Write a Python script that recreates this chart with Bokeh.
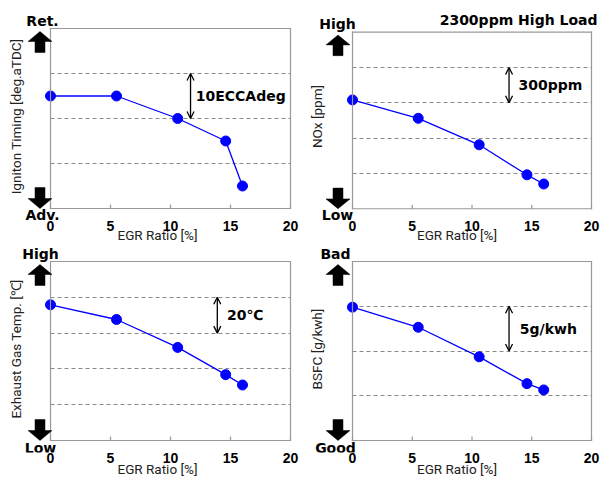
from bokeh.plotting import figure
from bokeh.models import Range1d, FixedTicker, Label, Arrow, OpenHead, PolyAnnotation
from bokeh.layouts import column, row
from bokeh.embed import file_html
from bokeh.resources import INLINE

# ---- data (values in grid-division units) ----
egr_ratio = [0, 5.5, 10.6, 14.6, 16.0]
ignition_timing = [2.5, 2.5, 2.0, 1.5, 0.5]     # 1 div = 10 ECA deg
nox_ppm = [3.08, 2.56, 1.81, 0.96, 0.70]        # 1 div = 300 ppm
exhaust_temp = [3.79, 3.38, 2.60, 1.84, 1.55]   # 1 div = 20 degC
bsfc = [2.98, 2.53, 1.87, 1.27, 1.13]           # 1 div = 5 g/kWh
x_ticks = [0, 5, 10, 15, 20]
x_max = 20.0

TICK_FONT = "Liberation Sans"
LABEL_FONT = "Roboto"
BOLD_FONT = "DejaVu Sans"
BOX_COLOR = "#999999"


def make_panel(vals, ylabel, hi_word, lo_word, ymax, scale_txt, scale_x, scale_y0, scale_y1, txt_x,
               width, height, b_left, b_right, b_top, b_bottom,
               pad_l, pad_r, pad_t, pad_b, box_w, box_h,
               ylab_standoff, xlab_standoff, arrow_dx, word_dx, word_dy_top, word_dy_bot):
    # pad_* : pixels between the drawn box (x 0..20, y 0..ymax) and the bokeh frame edge
    ppx = box_w / x_max
    ppy = box_h / float(ymax)
    p = figure(width=width, height=height,
               x_range=Range1d(-pad_l / ppx, x_max + pad_r / ppx),
               y_range=Range1d(-pad_b / ppy, ymax + pad_t / ppy),
               output_backend="svg", toolbar_location=None,
               min_border_left=b_left, min_border_right=b_right,
               min_border_top=b_top, min_border_bottom=b_bottom)
    p.outline_line_color = None
    p.background_fill_color = "white"
    p.border_fill_color = "white"
    p.xgrid.visible = False
    p.ygrid.ticker = FixedTicker(ticks=[float(v) for v in range(1, ymax)])
    p.ygrid.cross_bounds = (0.0, x_max)
    p.ygrid.grid_line_dash = "4 3"
    p.ygrid.grid_line_color = "#8a8a8a"
    p.ygrid.grid_line_width = 1

    p.yaxis.ticker = FixedTicker(ticks=[])
    p.yaxis.axis_line_color = None
    p.yaxis.major_tick_line_color = None
    p.yaxis.minor_tick_line_color = None
    p.yaxis.axis_label = ylabel
    p.yaxis.axis_label_text_font = LABEL_FONT
    p.yaxis.axis_label_text_font_style = "normal"
    p.yaxis.axis_label_text_font_size = "13.5px"
    p.yaxis.axis_label_text_color = "#222222"
    p.yaxis.axis_label_standoff = ylab_standoff

    p.xaxis.ticker = FixedTicker(ticks=x_ticks)
    p.xaxis.axis_line_color = None
    p.xaxis.major_tick_in = 0
    p.xaxis.major_tick_out = 0
    p.xaxis.major_tick_line_color = None
    p.xaxis.minor_tick_line_color = None
    p.xaxis.major_label_text_font = TICK_FONT
    p.xaxis.major_label_text_font_style = "bold"
    p.xaxis.major_label_text_font_size = "14px"
    p.xaxis.major_label_text_color = "black"
    p.xaxis.major_label_standoff = 0
    p.xaxis.axis_label = "EGR Ratio [%]"
    p.xaxis.axis_label_text_font = LABEL_FONT
    p.xaxis.axis_label_text_font_style = "normal"
    p.xaxis.axis_label_text_font_size = "13.5px"
    p.xaxis.axis_label_text_color = "#222222"
    p.xaxis.axis_label_standoff = xlab_standoff

    # plot box edges and inward ticks as thin filled polygons (same mechanism as the block arrows)
    hx = 0.6 / ppx   # half line thickness in data units (x)
    hy = 0.6 / ppy   # half line thickness in data units (y)
    edges = [
        ([-hx, x_max + hx, x_max + hx, -hx], [-hy, -hy, hy, hy]),                    # bottom
        ([-hx, x_max + hx, x_max + hx, -hx], [ymax - hy, ymax - hy, ymax + hy, ymax + hy]),  # top
        ([-hx, hx, hx, -hx], [-hy, -hy, ymax + hy, ymax + hy]),                      # left
        ([x_max - hx, x_max + hx, x_max + hx, x_max - hx], [-hy, -hy, ymax + hy, ymax + hy]),  # right
    ]
    tick_h = 4.0 / ppy
    for t in x_ticks:
        edges.append(([t - hx, t + hx, t + hx, t - hx], [0, 0, tick_h, tick_h]))
    for exs, eys in edges:
        p.add_layout(PolyAnnotation(xs=exs, ys=eys, fill_color=BOX_COLOR, fill_alpha=1,
                                    line_color=None))

    p.line(egr_ratio, vals, line_color="#0000ff", line_width=1.3)
    p.scatter(egr_ratio, vals, size=10, fill_color="#0000ff", line_color="#0000ff")

    # block arrows at the left edge
    shape = [(0, 0), (12, 10), (5, 10), (5, 21), (-5, 21), (-5, 10), (-12, 10)]
    xs = [(arrow_dx + dx) / ppx for dx, dy in shape]
    ys_up = [ymax - (3 + dy) / ppy for dx, dy in shape]
    ys_dn = [dy / ppy for dx, dy in shape]
    for ys in (ys_up, ys_dn):
        p.add_layout(PolyAnnotation(xs=xs, ys=ys, fill_color="black", fill_alpha=1,
                                    line_color="black", line_alpha=1, line_width=0.5))

    p.add_layout(Label(x=0, y=ymax, x_offset=word_dx, y_offset=word_dy_top, text=hi_word,
                       text_align="center", text_baseline="middle",
                       text_font=BOLD_FONT, text_font_style="bold", text_font_size="14px",
                       text_color="black"))
    p.add_layout(Label(x=0, y=0, x_offset=word_dx, y_offset=-word_dy_bot, text=lo_word,
                       text_align="center", text_baseline="middle",
                       text_font=BOLD_FONT, text_font_style="bold", text_font_size="14px",
                       text_color="black"))

    # scale indicator
    p.add_layout(Arrow(x_start=scale_x, y_start=scale_y0, x_end=scale_x, y_end=scale_y1,
                       line_color="black", line_width=1.3,
                       start=OpenHead(size=7, line_width=1.3, line_color="black"),
                       end=OpenHead(size=7, line_width=1.3, line_color="black")))
    p.add_layout(Label(x=txt_x, y=(scale_y0 + scale_y1) / 2.0, text=scale_txt,
                       text_align="left", text_baseline="middle",
                       text_font=BOLD_FONT, text_font_style="bold", text_font_size="14px",
                       text_color="black"))
    return p


# top row: figure height 245, box y 28..208 ; bottom row: height 238, box y 261..440
p1 = make_panel(ignition_timing, "Igniton Timing [deg.aTDC]", "Ret.", "Adv.", 4,
                "10ECCAdeg", 11.67, 3, 2, 12.1,
                300, 245, 22, 8, 12, 25,
                28, 2, 16, 12, 240, 180,
                -1, -7, -10.5, -8, 8, 6.5)
p2 = make_panel(nox_ppm, "NOx [ppm]", "High", "Low", 5,
                "300ppm", 13.1, 4, 3, 13.9,
                301, 245, 14, 2, 8, 25,
                38, 8, 20, 12, 239, 180,
                -10, -7, -14.5, -15, 8, 6.5)
p3 = make_panel(exhaust_temp, "Exhaust Gas Temp. [\u2103]", "High", "Low", 5,
                "20\u2103", 13.9, 4, 3, 14.7,
                300, 238, 22, 8, 0, 31,
                28, 2, 16, 12, 240, 179,
                -1, -5, -10.5, -10, 7.5, 7)
p4 = make_panel(bsfc, "BSFC [g/kwh]", "Bad", "Good", 4,
                "5g/kwh", 13.1, 3, 2, 14.0,
                301, 238, 14, 2, 0, 31,
                38, 8, 16, 12, 239, 179,
                -10, -5, -14.5, -17, 7.5, 7)

p2.add_layout(Label(x=x_max, y=5, x_offset=6, y_offset=12, text="2300ppm High Load",
                    text_align="right", text_baseline="middle",
                    text_font=BOLD_FONT, text_font_style="bold", text_font_size="14px",
                    text_color="black"))

layout = column(row(p1, p2), row(p3, p4))
open("out.html", "w").write(file_html(layout, INLINE))
